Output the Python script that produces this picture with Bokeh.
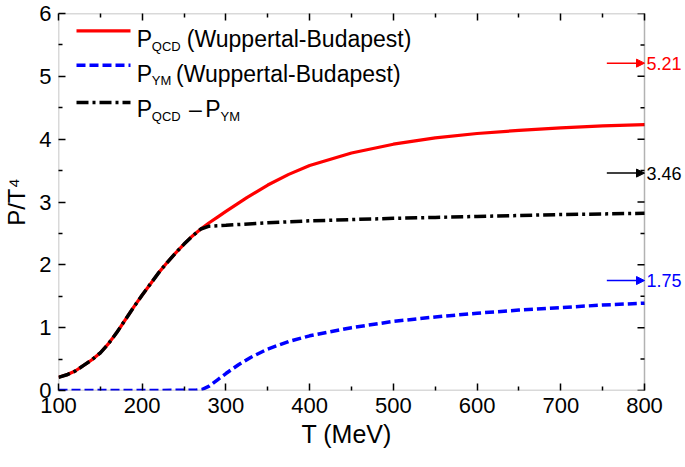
import numpy as np
from bokeh.plotting import figure
from bokeh.models import (LinearAxis, Label, Arrow, NormalHead, Range1d, Title,
                          CustomJSTickFormatter, FixedTicker, BoxAnnotation)
from bokeh.core.properties import value
from bokeh.embed import file_html
from bokeh.resources import INLINE

# ---------------- data ----------------
T_qcd = [100, 110, 120, 130, 140, 150, 160, 170, 180, 190, 200, 210, 220, 230,
         240, 250, 260, 270, 280, 290, 300, 325, 350, 375, 400, 450, 500, 550,
         600, 650, 700, 750, 800]
P_qcd = [0.21, 0.25, 0.31, 0.40, 0.49, 0.60, 0.75, 0.93, 1.13, 1.33, 1.52, 1.70,
         1.88, 2.04, 2.19, 2.33, 2.46, 2.57, 2.67, 2.76, 2.85, 3.07, 3.27, 3.44,
         3.58, 3.78, 3.92, 4.02, 4.09, 4.14, 4.18, 4.21, 4.23]

T_ym = [100, 150, 200, 250, 265, 272, 280, 290, 300, 315, 330, 350, 375, 400, 450,
        500, 550, 600, 650, 700, 750, 800]
P_ym = [0.0, 0.0, 0.0, 0.003, 0.008, 0.02, 0.07, 0.17, 0.27, 0.41, 0.53, 0.66,
        0.78, 0.87, 1.00, 1.10, 1.17, 1.23, 1.28, 1.32, 1.36, 1.39]

T_diff = [100, 110, 120, 130, 140, 150, 160, 170, 180, 190, 200, 210, 220, 230,
          240, 250, 260, 270, 280, 300, 350, 400, 450, 500, 550, 600, 650, 700,
          750, 800]
P_diff = [0.21, 0.25, 0.31, 0.40, 0.49, 0.60, 0.75, 0.93, 1.13, 1.33, 1.52, 1.70,
          1.88, 2.04, 2.19, 2.33, 2.46, 2.57, 2.615, 2.63, 2.67, 2.70, 2.72, 2.74,
          2.755, 2.77, 2.785, 2.80, 2.81, 2.82]

ref_values = [5.21, 3.46, 1.75]
ref_labels = ["5.21", "3.46", "1.75"]
ref_colors = ["#ff0000", "#000000", "#0000ff"]
ref_arrow_start = 755

x_major = [100, 200, 300, 400, 500, 600, 700, 800]
x_minor = [150, 250, 350, 450, 550, 650, 750]
y_major = [0, 1, 2, 3, 4, 5, 6]
y_minor = [0.5, 1.5, 2.5, 3.5, 4.5, 5.5]
X_MIN, X_MAX, Y_MIN, Y_MAX = 100, 800, 0, 6

FONT = "Liberation Sans"
RED, BLUE, BLACK = "#ff0000", "#0000ff", "#000000"

# layout: the plot box is 586 px wide; a 38 px strip on its right holds the value labels
BOX_W, STRIP_W, FH = 586, 38, 377
x_view_max = X_MAX + STRIP_W * (X_MAX - X_MIN) / BOX_W

p = figure(frame_width=BOX_W + STRIP_W, frame_height=FH,
           x_range=Range1d(X_MIN, x_view_max), y_range=Range1d(Y_MIN, Y_MAX),
           output_backend="svg", toolbar_location=None,
           min_border_left=52, min_border_right=0,
           min_border_top=13, min_border_bottom=66)
p.background_fill_color = "white"
p.border_fill_color = "white"
p.grid.visible = False
p.outline_line_color = None


def style_axis(ax):
    ax.major_tick_in = 7
    ax.major_tick_out = 0
    ax.minor_tick_in = 4
    ax.minor_tick_out = 0
    ax.major_tick_line_width = 1.5
    ax.minor_tick_line_width = 1.5
    ax.major_tick_line_color = "black"
    ax.minor_tick_line_color = "black"
    ax.major_label_text_font = FONT
    ax.major_label_text_font_size = "22px"
    ax.major_label_text_color = "black"
    ax.axis_label_text_font = FONT
    ax.axis_label_text_font_style = "normal"
    ax.axis_label_text_color = "black"


xa = p.xaxis[0]
ya = p.yaxis[0]
xa.ticker = FixedTicker(ticks=x_major, minor_ticks=x_minor)
ya.ticker = FixedTicker(ticks=y_major, minor_ticks=y_minor)
style_axis(xa)
style_axis(ya)
xa.axis_line_color = None
ya.axis_line_color = None
ya.axis_label = "P/T\u2074"
ya.axis_label_text_font_size = "24px"
xa.major_label_standoff = 7
ya.major_label_standoff = 7
ya.axis_label_standoff = 6

# top axis: ticks only
top = LinearAxis(ticker=FixedTicker(ticks=x_major, minor_ticks=x_minor),
                 formatter=CustomJSTickFormatter(code="return ''"))
style_axis(top)
top.axis_line_color = None
top.major_label_text_font_size = "0px"
top.major_label_standoff = 0
p.add_layout(top, "above")

# x axis title, placed under the plot box
p.add_layout(Title(text="T (MeV)", align="left", offset=243, standoff=5,
                   vertical_align="bottom",
                   text_font=FONT, text_font_size="25px",
                   text_font_style="normal", text_color="black"), "below")

# plot box
p.add_layout(BoxAnnotation(left=X_MIN, right=X_MAX, bottom=Y_MIN, top=Y_MAX,
                           fill_alpha=0, fill_color=None,
                           line_color="black", line_width=1.5))
# right-hand ticks (pointing into the box)
p.ray(x=[X_MAX] * len(y_major), y=y_major, length=7, length_units="screen",
      angle=np.pi, line_color="black", line_width=1.5)
p.ray(x=[X_MAX] * len(y_minor), y=y_minor, length=4, length_units="screen",
      angle=np.pi, line_color="black", line_width=1.5)

# ---------------- curves ----------------
p.line(T_qcd, P_qcd, line_color=RED, line_width=3.2)
p.line(T_ym, P_ym, line_color=BLUE, line_width=3.5, line_dash="9 4")
p.line(T_diff, P_diff, line_color=BLACK, line_width=3.5, line_dash="12 4 3 4")

# ---------------- reference arrows and values ----------------
for v, c in zip(ref_values, ref_colors):
    p.add_layout(Arrow(x_start=ref_arrow_start, y_start=v, x_end=X_MAX, y_end=v,
                       line_color=c, line_width=1.5,
                       end=NormalHead(size=8, fill_color=c, line_color=c, line_width=1)))
p.text(x=[X_MAX] * len(ref_values), y=ref_values, text=ref_labels,
       text_color=ref_colors, text_font=value(FONT), text_font_size=value("18px"),
       text_baseline="middle", text_align="left", x_offset=2)

# ---------------- legend (built by hand for subscripts) ----------------
samples = [(359.7, RED, "solid", 3.2), (325.3, BLUE, "9 4", 3.5), (288.0, BLACK, "12 4 3 4", 3.5)]
for y, c, dash, w in samples:
    p.add_layout(Arrow(x_start=18, y_start=y, x_end=72, y_end=y,
                       start_units="screen", end_units="screen", end=None,
                       line_color=c, line_width=w, line_dash=dash))


def txt(x, y, s, size):
    p.add_layout(Label(x=x, y=y, x_units="screen", y_units="screen", text=s,
                       text_font=FONT, text_font_size=size, text_color="black",
                       text_baseline="alphabetic", text_align="left"))


BIG, SMALL = "23px", "13px"
# row 1
txt(78.3, 351.3, "P", BIG)
txt(93.3, 344.0, "QCD", SMALL)
txt(128.3, 351.3, "(Wuppertal-Budapest)", BIG)
# row 2
txt(78.3, 317.0, "P", BIG)
txt(93.3, 309.7, "YM", SMALL)
txt(117.5, 317.0, "(Wuppertal-Budapest)", BIG)
# row 3
txt(78.3, 281.3, "P", BIG)
txt(93.3, 274.0, "QCD", SMALL)
txt(130.5, 281.3, "\u2013", BIG)
txt(146.7, 281.3, "P", BIG)
txt(162.0, 274.0, "YM", SMALL)

open("out.html", "w").write(file_html(p, INLINE))
